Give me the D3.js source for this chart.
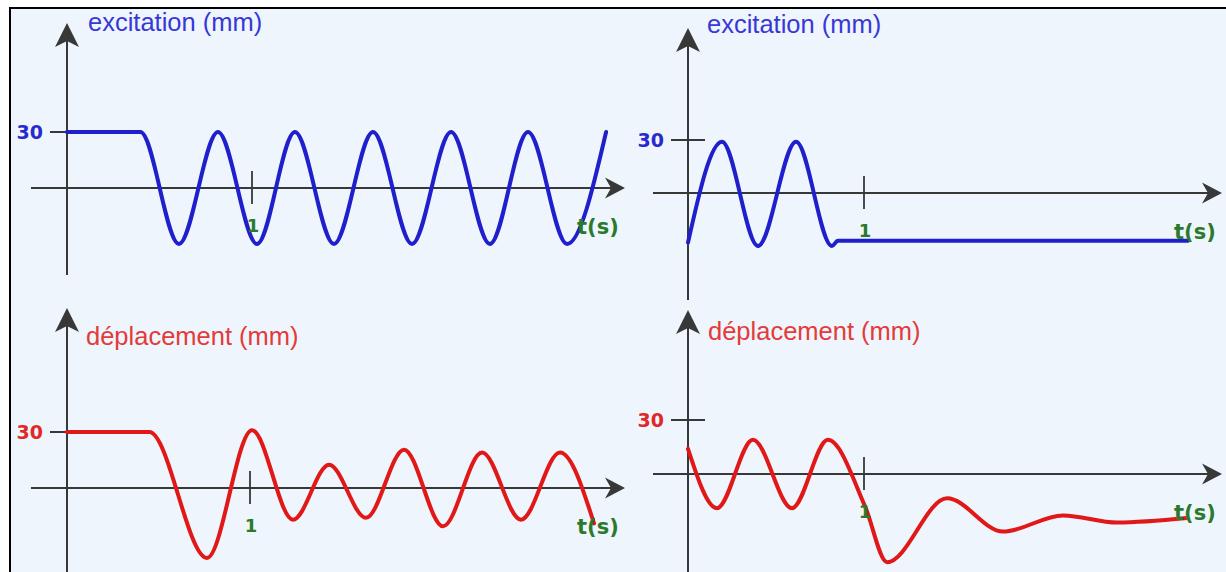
<!DOCTYPE html>
<html><head><meta charset="utf-8">
<script src="https://cdn.jsdelivr.net/npm/d3@7"></script>
<style>html,body{margin:0;padding:0;background:#fff;} svg{display:block}</style>
</head><body><svg id="c" width="1226" height="572"></svg>
<script>
// ---- data (t in s, value in mm): extremes, starts, ends ----
const excATime  = [0, 0.397, 0.605, 0.816, 1.027, 1.232, 1.443, 1.654, 1.865, 2.076, 2.286, 2.492, 2.703, 2.914];
const excAValue = [30, 30, -30, 30, -30, 30, -30, 30, -30, 30, -30, 30, -30, 30];

const excBTime  = [0, 0.193, 0.398, 0.614, 0.818, 0.852, 2.841];
const excBValue = [-28, 29, -30, 29, -30, -27, -27];

const depATime  = [0, 0.45, 0.765, 1.011, 1.235, 1.432, 1.634, 1.842, 2.055, 2.268, 2.481, 2.694, 2.880];
const depAValue = [30, 30, -37.5, 31, -17, 12.5, -16, 20.5, -20.5, 19, -17, 19, -19];

const depBTime  = [0, 0.165, 0.369, 0.591, 0.795, 1.006, 1.131, 1.472, 1.790, 2.131, 2.438, 2.835];
const depBValue = [14, -19, 19, -19, 19, -18, -49, -13.5, -32, -23, -27, -24.5];

const yTickValue = 30;
const xTickValue = 1;
const yTickLabel = "30";
const xTickLabel = "1";
const xAxisLabel = "t(s)";
const titleExc = "excitation (mm)";
const titleDep = "déplacement (mm)";

// ---- layout / style ----
const bg = "#eef5fc";
const axisCol = "#383838";
const green = "#2b7a2b";
const styles = {
  exc: {line: "#1f1fcc", title: "#3838d6", label: "#2a2acc"},
  dep: {line: "#e01818", title: "#e43a3a", label: "#e02828"}
};
const panels = [
  {t: excATime, v: excAValue, title: titleExc, kind: "exc", xr: [67, 252], yr: [188, 132], xAxis: [31, 625], yAxis: [275, 23], titleX: 88, titleY: 31},
  {t: excBTime, v: excBValue, title: titleExc, kind: "exc", xr: [688, 864], yr: [193, 140], xAxis: [653, 1222], yAxis: [300, 28], titleX: 707, titleY: 33},
  {t: depATime, v: depAValue, title: titleDep, kind: "dep", xr: [67, 250], yr: [488, 432], xAxis: [31, 625], yAxis: [572, 308], titleX: 86, titleY: 345},
  {t: depBTime, v: depBValue, title: titleDep, kind: "dep", xr: [688, 864], yr: [474, 420], xAxis: [653, 1222], yAxis: [572, 310], titleX: 708, titleY: 340}
];

const svg = d3.select("#c");
svg.append("rect").attr("x", 10).attr("y", 8).attr("width", 1216).attr("height", 564).attr("fill", bg);
svg.append("line").attr("x1", 9).attr("x2", 1226).attr("y1", 8).attr("y2", 8).attr("stroke", "#000").attr("stroke-width", 2);
svg.append("line").attr("x1", 10).attr("x2", 10).attr("y1", 8).attr("y2", 572).attr("stroke", "#000").attr("stroke-width", 2);

const arrowX = "M0,0 L-20,-10.5 L-14,0 L-20,10.5 Z";
const arrowY = "M0,0 L-24,-12 L-18,0 L-24,12 Z";

panels.forEach(p => {
  const st = styles[p.kind];
  const x = d3.scaleLinear().domain([0, xTickValue]).range(p.xr);
  const y = d3.scaleLinear().domain([0, yTickValue]).range(p.yr);
  const g = svg.append("g");

  // axes
  g.append("line").attr("x1", p.xAxis[0]).attr("x2", p.xAxis[1] - 12)
    .attr("y1", y(0)).attr("y2", y(0)).attr("stroke", axisCol).attr("stroke-width", 2);
  g.append("path").attr("d", arrowX).attr("fill", axisCol)
    .attr("transform", `translate(${p.xAxis[1]},${y(0)})`);
  g.append("line").attr("x1", x(0)).attr("x2", x(0))
    .attr("y1", p.yAxis[0]).attr("y2", p.yAxis[1] + 16).attr("stroke", axisCol).attr("stroke-width", 2);
  g.append("path").attr("d", arrowY).attr("fill", axisCol)
    .attr("transform", `translate(${x(0)},${p.yAxis[1]}) rotate(-90)`);

  // ticks
  g.append("line").attr("x1", x(0) - 17).attr("x2", x(0) + 17)
    .attr("y1", y(yTickValue)).attr("y2", y(yTickValue)).attr("stroke", axisCol).attr("stroke-width", 1.8);
  g.append("line").attr("x1", x(xTickValue)).attr("x2", x(xTickValue))
    .attr("y1", y(0) - 17).attr("y2", y(0) + 16).attr("stroke", axisCol).attr("stroke-width", 1.8);

  // curve
  const line = d3.line().x(d => x(d[0])).y(d => y(d[1])).curve(d3.curveMonotoneX);
  g.append("path").datum(d3.zip(p.t, p.v)).attr("d", line)
    .attr("fill", "none").attr("stroke", st.line).attr("stroke-width", 4)
    .attr("stroke-linejoin", "round").attr("stroke-linecap", "round");

  // texts
  g.append("text").attr("x", p.titleX).attr("y", p.titleY).text(p.title)
    .attr("font-family", "'Liberation Sans', Arial, sans-serif").attr("font-size", 25.5).attr("fill", st.title);
  g.append("text").attr("x", x(0) - 24).attr("y", y(yTickValue) + 7).text(yTickLabel)
    .attr("text-anchor", "end").attr("font-family", "'DejaVu Sans', sans-serif").attr("font-weight", "bold")
    .attr("font-size", 19).attr("fill", st.label);
  g.append("text").attr("x", x(xTickValue) + 1).attr("y", y(0) + 44).text(xTickLabel)
    .attr("text-anchor", "middle").attr("font-family", "'DejaVu Sans', sans-serif").attr("font-weight", "bold")
    .attr("font-size", 18).attr("fill", green);
  g.append("text").attr("x", p.xAxis[1] - 48).attr("y", y(0) + 46).text(xAxisLabel)
    .attr("font-family", "'DejaVu Sans', sans-serif").attr("font-weight", "bold")
    .attr("font-size", 21).attr("fill", green);
});
</script>
</body></html>
